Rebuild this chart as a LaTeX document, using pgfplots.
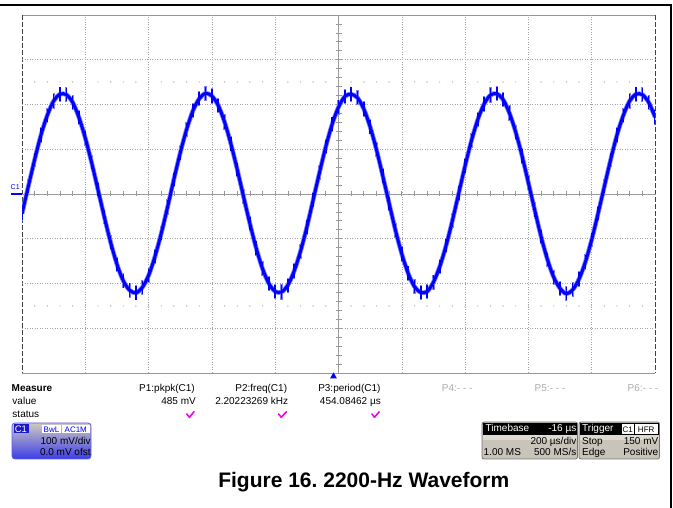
\documentclass[border=0pt]{standalone}
\usepackage{fontspec}
\setmainfont{Liberation Sans}
\usepackage{pgfplots}
\usepackage{pgfplotstable}
\pgfplotsset{compat=1.18}
\frenchspacing

\definecolor{scopeblue}{RGB}{0,0,255}
\definecolor{gridgray}{RGB}{165,165,165}
\definecolor{axgray}{RGB}{150,150,150}
\definecolor{chk}{RGB}{240,0,240}
\definecolor{panel}{RGB}{200,196,186}
\definecolor{panelhi}{RGB}{222,218,208}
\definecolor{paneledge}{RGB}{115,115,115}
\definecolor{pgray}{RGB}{170,170,170}
\definecolor{chtop}{RGB}{206,201,192}
\definecolor{chmid}{RGB}{188,186,205}
\definecolor{chbot}{RGB}{60,60,232}
\definecolor{chedge}{RGB}{90,90,240}
\definecolor{chlabel}{RGB}{25,25,205}

% C1 trace: time (us, trigger at 0) vs. voltage (mV)
\pgfplotstableread{
t v
-984 -44
-964 17
-944 77
-924 132
-904 176
-884 208
-864 223
-844 222
-824 205
-804 171
-784 125
-764 70
-744 10
-724 -51
-704 -108
-684 -157
-664 -194
-644 -215
-624 -221
-604 -209
-584 -182
-564 -140
-544 -88
-524 -29
-504 33
-484 92
-464 144
-444 186
-424 213
-404 225
-384 219
-364 198
-344 161
-324 112
-304 55
-284 -6
-264 -66
-244 -121
-224 -167
-204 -200
-184 -218
-164 -219
-144 -204
-124 -172
-104 -128
-84 -74
-64 -13
-44 48
-24 106
-4 156
16 194
36 218
56 223
76 215
96 190
116 150
136 99
156 40
176 -21
196 -81
216 -134
236 -177
256 -207
276 -220
296 -218
316 -197
336 -162
356 -115
376 -59
396 2
416 63
436 119
456 166
476 201
496 221
516 224
536 211
556 181
576 138
596 85
616 25
636 -36
656 -95
676 -146
696 -186
716 -211
736 -223
756 -214
776 -190
796 -152
816 -102
836 -44
856 17
876 77
896 132
916 176
936 208
956 223
976 222
996 205
1016 172
}\wave

\begin{document}
\begin{tikzpicture}
% screen decorations, in pixel units (y downwards)
\begin{scope}[x=1pt,y=-1pt,shift={(0pt,508pt)}]
  \path[use as bounding box] (0,0) rectangle (673,508);
  \draw[line width=1.5pt] (0,5) -- (671,5) -- (671,508);
  \draw[axgray, line width=0.9pt] (22,15) -- (655,15);
  \draw[axgray, line width=0.9pt] (22,373) -- (655,373);
  \draw[black!75, line width=1pt, dash pattern=on 5pt off 2pt] (22,15) -- (22,373);
  \draw[black!75, line width=1pt, dash pattern=on 5pt off 2pt] (655,15) -- (655,373);
  \draw[axgray, line width=0.9pt] (22,194) -- (655,194);
  \draw[axgray, line width=0.9pt] (338.5,15) -- (338.5,373);
  \foreach \i in {1,...,49} {
    \draw[axgray, line width=0.7pt] ({22+12.66*\i},191.5) -- ({22+12.66*\i},196.5);
    \fill[gridgray] ({22+12.66*\i},82) circle (0.7);
    \fill[gridgray] ({22+12.66*\i},306) circle (0.7);
  }
  \foreach \j in {1,...,39} {
    \draw[axgray, line width=0.7pt] (335.5,{15+8.95*\j}) -- (341.5,{15+8.95*\j});
  }
\end{scope}

\begin{axis}[
    at={(22pt,135pt)}, anchor=south west,
    width=633pt, height=358pt, scale only axis,
    xmin=-984, xmax=1016,
    ymin=-400, ymax=400,
    xtick={-784,-584,...,816},
    ytick={-300,-200,...,300},
    xticklabels={}, yticklabels={},
    major tick length=0pt,
    grid=major,
    grid style={gridgray, line width=0.6pt, dash pattern=on 1pt off 1.5pt},
    axis line style={draw=none},
    ]
    \addplot[scopeblue!50, line width=4.6pt, smooth,
        error bars/.cd, y dir=both, y fixed=17, error mark=none,
        error bar style={line width=2.2pt, scopeblue!50}]
        table[x=t, y=v] {\wave};
    \addplot[scopeblue, line width=3pt, smooth,
        error bars/.cd, y dir=both, y fixed=15, error mark=none,
        error bar style={line width=1.5pt, scopeblue}]
        table[x=t, y=v] {\wave};
\end{axis}

\begin{scope}[x=1pt,y=-1pt,shift={(0pt,508pt)},
    every node/.style={inner sep=0pt, font=\fontsize{10}{12}\selectfont}]
  % channel marker and trigger position
  \node[scopeblue, anchor=base west, font=\fontsize{7}{8}\selectfont] at (10.5,189.5) {C1};
  \draw[scopeblue, line width=1.2pt] (11,194) -- (22,194);
  \fill[scopeblue] (333.5,372.5) -- (337,378.5) -- (330,378.5) -- cycle;

  % measurement table
  \node[anchor=base west, font=\bfseries\fontsize{10}{12}\selectfont] at (11.5,391.7) {Measure};
  \node[anchor=base west] at (12.3,405) {value};
  \node[anchor=base west] at (12.3,417.7) {status};
  \node[anchor=base east] at (195,391.7) {P1:pkpk(C1)};
  \node[anchor=base east] at (196,405) {485 mV};
  \node[anchor=base east] at (287.3,391.7) {P2:freq(C1)};
  \node[anchor=base east] at (288.3,405) {2.20223269 kHz};
  \node[anchor=base east] at (380.7,391.7) {P3:period(C1)};
  \node[anchor=base east] at (381,405) {454.08462 µs};
  \node[pgray, anchor=base east] at (472.7,391.7) {P4:- - -};
  \node[pgray, anchor=base east] at (565.5,391.7) {P5:- - -};
  \node[pgray, anchor=base east] at (658.5,391.7) {P6:- - -};
  \draw[chk, line width=1.6pt, line cap=round, line join=round] (186.8,414) -- (189.4,417.3) -- (194,411.8);
  \draw[chk, line width=1.6pt, line cap=round, line join=round] (278.6,414) -- (281.2,417.3) -- (286.4,411.8);
  \draw[chk, line width=1.6pt, line cap=round, line join=round] (371.9,414) -- (374.5,417.3) -- (379.2,411.8);

  % channel box
  \draw[rounded corners=3pt, draw=chedge, line width=0.8pt,
        top color=chtop, middle color=chmid, bottom color=chbot] (12,423) rectangle (91,459);
  \fill[chlabel] (14,424.5) rectangle (28.5,433.5);
  \node[white, anchor=base west, font=\fontsize{9.5}{11}\selectfont] at (14.6,432.3) {C1};
  \fill[white] (42,425) rectangle (61,433.5);
  \fill[white] (62,425) rectangle (89.5,433.5);
  \node[scopeblue, font=\fontsize{8}{9}\selectfont] at (51.5,429.3) {BwL};
  \node[scopeblue, font=\fontsize{8}{9}\selectfont] at (75.8,429.3) {AC1M};
  \node[anchor=base east] at (90.8,445) {100 mV/div};
  \node[anchor=base east] at (90.8,455.7) {0.0 mV ofst};

  % timebase box
  \filldraw[rounded corners=2pt, fill=panel, draw=paneledge, line width=0.8pt] (482,422) rectangle (577.5,459);
  \fill[black] (483,423) rectangle (576.5,435.5);
  \fill[panelhi] (483,435.5) rectangle (576.5,440);
  \node[white, anchor=base west] at (485.5,432) {Timebase};
  \node[white, anchor=base east] at (576.5,432) {-16 µs};
  \node[anchor=base east] at (576.5,444.3) {200 µs/div};
  \node[anchor=base west] at (483.5,455.7) {1.00 MS};
  \node[anchor=base east] at (576.5,455.7) {500 MS/s};

  % trigger box
  \filldraw[rounded corners=2pt, fill=panel, draw=paneledge, line width=0.8pt] (579,422) rectangle (659.5,459);
  \fill[black] (580,423) rectangle (658.5,435.5);
  \fill[panelhi] (580,435.5) rectangle (658.5,440);
  \node[white, anchor=base west] at (582,432) {Trigger};
  \fill[white] (622,424.5) rectangle (633.5,434);
  \fill[white] (635,424.5) rectangle (657.5,434);
  \node[font=\fontsize{8}{9}\selectfont] at (627.8,429.3) {C1};
  \node[font=\fontsize{8}{9}\selectfont] at (646.2,429.3) {HFR};
  \node[anchor=base west] at (582,444.3) {Stop};
  \node[anchor=base east] at (658.5,444.3) {150 mV};
  \node[anchor=base west] at (582,455.7) {Edge};
  \node[anchor=base east] at (658.5,455.7) {Positive};

  % caption
  \node[anchor=base, font=\bfseries\fontsize{21}{24}\selectfont] at (363.8,487.3) {Figure 16. 2200-Hz Waveform};
\end{scope}
\end{tikzpicture}
\end{document}
